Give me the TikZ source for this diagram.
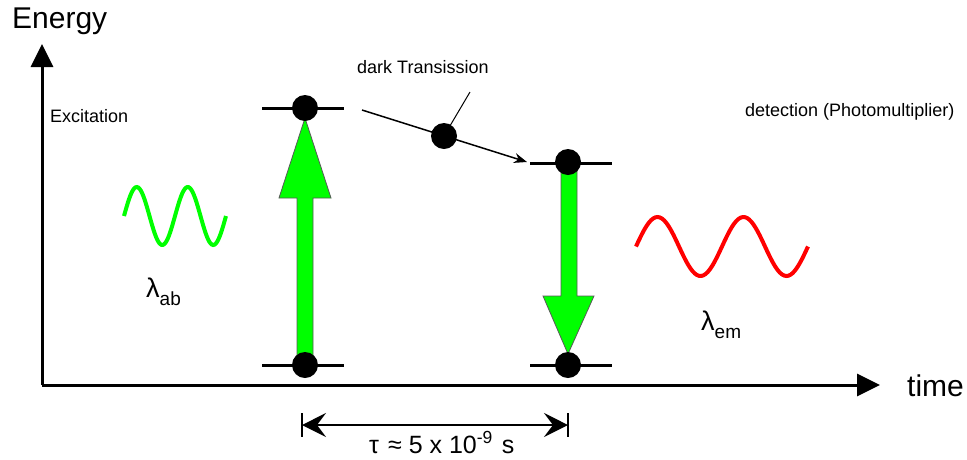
\documentclass[tikz,border=0pt]{standalone}
\usepackage{fontspec}
\setmainfont{Liberation Sans}
\usetikzlibrary{positioning,arrows.meta}
\definecolor{lgreen}{RGB}{0,255,0}
\definecolor{lred}{RGB}{255,0,0}
\tikzset{
  axis/.style     = {line width=3pt, -{Triangle[length=23pt,width=22pt]}},
  level/.style    = {line width=3pt},
  dot/.style      = {circle, fill=black, minimum size=26pt, inner sep=0pt},
  bigarrow/.style = {fill=lgreen, draw=black!65, line width=0.8pt},
  wave/.style     = {line width=4pt, smooth},
  thin/.style     = {line width=1.5pt},
  lbl/.style      = {font=\fontsize{18}{20}\selectfont, inner sep=0pt},
  big/.style      = {font=\fontsize{30}{32}\selectfont, inner sep=0pt},
}
\newcommand{\lam}[1]{\fontsize{27}{27}\selectfont λ\raisebox{-8pt}{\fontsize{19}{19}\selectfont #1}}
\begin{document}
\begin{tikzpicture}[x=1pt, y=-1pt]
        \useasboundingbox (0,0) rectangle (967,459);

        % axes
        \coordinate (O) at (42,385);
        \coordinate (ytop) at (42,44);
        \coordinate (xend) at (880,385);
        \draw[axis] (O) -- (ytop);
        \draw[axis] (O) -- (xend);
        \node[big, anchor=base west] (energy) at (12,28) {Energy};
        \node[big, anchor=base west] (time) at (907,396) {time};

        % side labels
        \node[lbl, anchor=base west] (exc) at (50,122) {Excitation};
        \node[lbl, anchor=base west] (det) at (745,116) {detection (Photomultiplier)};

        % waves
        \draw[wave, lgreen] plot[domain=0:2, samples=80] ({124+\x*51}, {216-29*sin(\x*360)});
        \draw[wave, lred] plot[domain=0:2, samples=80] ({636+\x*86}, {246.5-29.5*sin(\x*360)});
        \node[inner sep=0pt, anchor=base west] (lab) at (146,297) {\lam{ab}};
        \node[inner sep=0pt, anchor=base west] (lem) at (701,330) {\lam{em}};

        % energy levels
        \draw[level] (262,108) -- (344,108);
        \draw[level] (262,365) -- (344,365);
        \draw[level] (530,163) -- (612,163);
        \draw[level] (530,365) -- (612,365);

        % absorption (up) and emission (down)
        \fill[bigarrow] (297,365) -- (297,198) -- (279,198) -- (305,118)
                     -- (331,198) -- (313,198) -- (313,365) -- cycle;
        \fill[bigarrow] (561,163) -- (561,296) -- (543,296) -- (568,354)
                     -- (594,296) -- (577,296) -- (577,163) -- cycle;

        \node[dot] (Lhi) at (305,108) {};
        \node[dot] (Llo) at (305,365) {};
        \node[dot] (Rhi) at (568,162) {};
        \node[dot] (Rlo) at (568,365) {};

        % dark transition
        \coordinate (dtA) at (362,110);
        \coordinate (dtB) at (527,162);
        \draw[thin, -{Stealth[length=13pt,width=10pt]}] (dtA) -- (dtB);
        \node[dot] (dtdot) at (444,136) {};
        \node[lbl, anchor=base west] (dark) at (357,73) {dark Transission};
        \coordinate (ptr) at (470,92);
        \draw[line width=1pt] (ptr) -- (dtdot.center);

        % lifetime
        \coordinate (tauL) at (302,425);
        \coordinate (tauR) at (568,425);
        \draw[thin] (302,413) -- (302,437);
        \draw[thin] (568,413) -- (568,437);
        \draw[thin, {Stealth[length=24pt,width=24pt,inset=9pt]}-{Stealth[length=24pt,width=24pt,inset=9pt]}] (tauL) -- (tauR);
        \node[inner sep=0pt, anchor=base west, font=\fontsize{25}{27}\selectfont] (tau) at (369,453)
              {τ\hspace{9pt}≈\hspace{7pt}5 x 10\textsuperscript{-9}\hspace{2pt} s};
\end{tikzpicture}
\end{document}
